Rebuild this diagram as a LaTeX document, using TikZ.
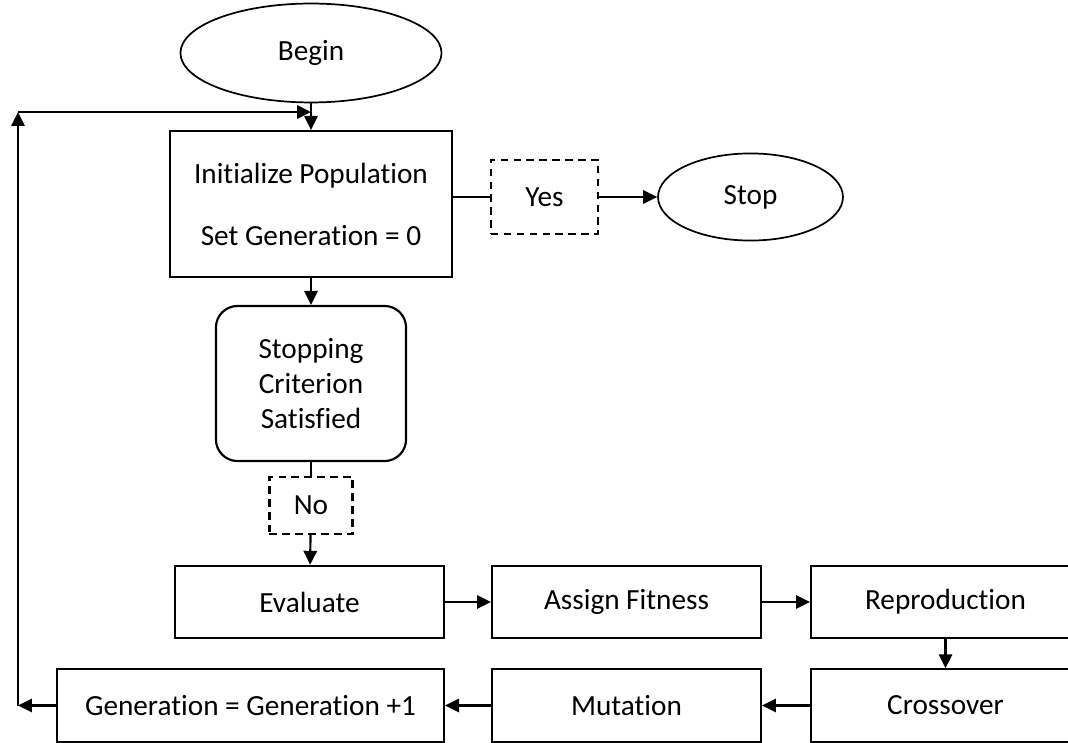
\documentclass[tikz,border=0pt]{standalone}
\usepackage{fontspec}
\setmainfont{Carlito}[Ligatures=NoCommon]
\usetikzlibrary{arrows.meta,positioning,shapes.geometric}

\begin{document}
\begin{tikzpicture}[
  x=0.465pt, y=-0.465pt,
  font=\fontsize{13.6}{16.3}\selectfont,
  procbox/.style={draw, line width=1pt, align=center, inner sep=0pt, minimum width=125pt, minimum height=33.6pt},
  termnode/.style={draw, ellipse, line width=0.8pt, align=center, inner sep=0pt},
  answer/.style={draw, dashed, dash pattern=on 3.5pt off 2.5pt, line width=1pt, inner sep=0pt},
  arr/.style={-{Triangle[length=6.5pt, width=6.2pt]}, line width=1pt},
  link/.style={line width=1pt}
]
\useasboundingbox (0,0) rectangle (1068,743);
\clip (0,0) rectangle (1068,743);

\node[termnode, minimum width=121.4pt, minimum height=46pt] (begin) at (311,53) {Begin};
\node[procbox, minimum width=131.1pt, minimum height=67.9pt] (init) at (311,204) {Initialize Population\\[12.5pt]Set Generation = 0};
\node[answer, minimum width=49.8pt, minimum height=34.4pt] (yes) at (544.5,197) {Yes};
\node[termnode, minimum width=86pt, minimum height=40.5pt] (stop) at (750.5,197) {Stop};
\node[procbox, rounded corners=10pt, minimum width=88.4pt, minimum height=72.1pt] (crit) at (311,383.5) {Stopping\\Criterion\\Satisfied};
\node[answer, minimum width=38.6pt, minimum height=26.5pt] (no) at (311,505.5) {No};

\node[procbox] (eval)   at (309.5,602) {Evaluate};
\node[procbox] (assign) at (626.5,602) {Assign Fitness};
\node[procbox] (repro)  at (945.5,602) {Reproduction};
\node[procbox, minimum width=180pt] (gen) at (250.5,705.5) {Generation = Generation +1};
\node[procbox] (mut)    at (626.5,705.5) {Mutation};
\node[procbox] (cross)  at (945.5,705.5) {Crossover};

\coordinate (lowbend) at (18,705.5);
\coordinate (topbend) at (18,112);
\coordinate (merge)   at (311,112);

\draw[arr] (begin) -- (init);
\draw[link] (yes.west) -- (yes.west -| init.east);
\draw[arr] (yes) -- (stop);
\draw[arr] (init) -- (crit);
\draw[link] (crit) -- (no);
\draw[arr] (no) -- (eval);
\draw[arr] (eval) -- (assign);
\draw[arr] (assign) -- (repro);
\draw[arr] (repro) -- (cross);
\draw[arr] (cross) -- (mut);
\draw[arr] (mut) -- (gen);

% loop back to the start
\draw[arr] (gen.west) -- (lowbend);
\draw[arr] (lowbend) -- (topbend);
\draw[arr] (topbend) -- (merge);
\end{tikzpicture}
\end{document}
